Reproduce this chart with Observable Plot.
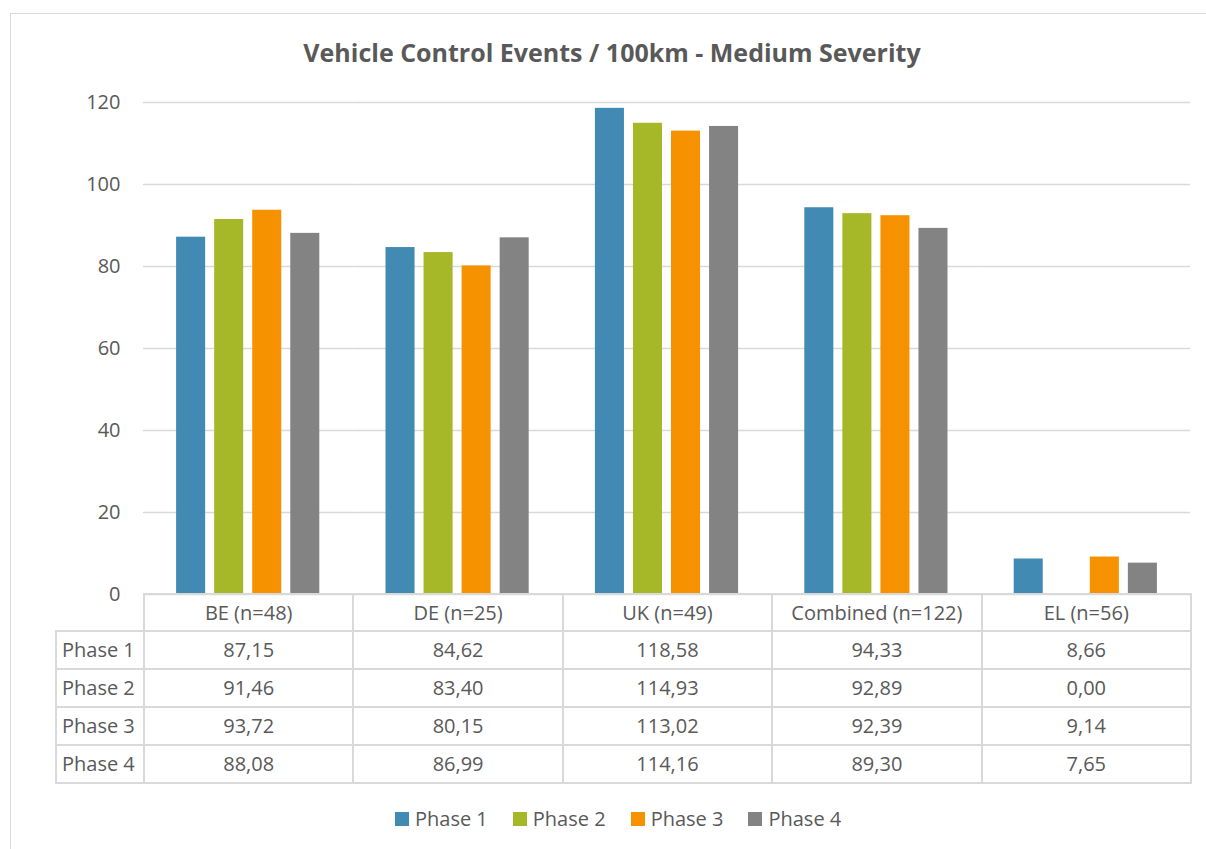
<!DOCTYPE html>
<html>
<head>
<meta charset="utf-8">
<script src="https://cdn.jsdelivr.net/npm/d3@7"></script>
<script src="https://cdn.jsdelivr.net/npm/@observablehq/plot@0.6"></script>
<style>
  html, body { margin: 0; padding: 0; background: #fff; }
  #wrap { position: relative; width: 1206px; height: 849px; overflow: hidden; font-family: "Open Sans", sans-serif; color: #595959; background: #fff; }
  #frame { position: absolute; left: 10px; top: 13px; width: 1210px; height: 860px; border: 1.5px solid #D9D9D9; box-sizing: border-box; }
  #title { position: absolute; left: 0; top: 35px; width: 1224px; text-align: center; font-weight: bold; font-size: 25px; line-height: 34px; color: #595959; }
  #chart { position: absolute; left: 0; top: 0; }
  #tbl { position: absolute; left: 55px; top: 593px; border-collapse: collapse; table-layout: fixed; font-size: 20px; color: #595959; }
  #tbl td { border: 2px solid #D9D9D9; height: 36px; padding: 0; text-align: center; white-space: nowrap; line-height: 36px; }
  #tbl tr.hdr td { height: 35px; line-height: 35px; }
  #tbl td.lab { text-align: left; padding-left: 5px; }
  #tbl td.empty { border: none; }
  #legend { position: absolute; left: 395px; top: 805px; display: flex; align-items: center; font-size: 20px; color: #595959; }
  #legend .it { display: flex; align-items: center; margin-right: 25px; }
  #legend .sw { width: 14px; height: 14px; margin-right: 6px; }
</style>
</head>
<body>
<div id="wrap">
  <div id="frame"></div>
  <div id="chart"></div>
  <div id="title"></div>
  <table id="tbl"></table>
  <div id="legend"></div>
</div>
<script>
const titleText = "Vehicle Control Events / 100km - Medium Severity";
const categories = ["BE (n=48)", "DE (n=25)", "UK (n=49)", "Combined (n=122)", "EL (n=56)"];
const phases = ["Phase 1", "Phase 2", "Phase 3", "Phase 4"];
const phase1 = [87.15, 84.62, 118.58, 94.33, 8.66];
const phase2 = [91.46, 83.40, 114.93, 92.89, 0.00];
const phase3 = [93.72, 80.15, 113.02, 92.39, 9.14];
const phase4 = [88.08, 86.99, 114.16, 89.30, 7.65];
const colors = ["#418AB3", "#A6B727", "#F69200", "#838383"];
const yTicks = [0, 20, 40, 60, 80, 100, 120];

const series = [phase1, phase2, phase3, phase4];
const data = [];
categories.forEach((c, i) => phases.forEach((p, j) => data.push({cat: c, phase: p, value: series[j][i]})));

document.getElementById("title").textContent = titleText;

const chart = Plot.plot({
  width: 1206,
  height: 624,
  marginLeft: 143,
  marginRight: 16,
  marginTop: 102,
  marginBottom: 30,
  style: {fontFamily: "'Open Sans', sans-serif", fontSize: "20px", color: "#595959", background: "transparent"},
  fx: {domain: categories, padding: 0, axis: null, round: false},
  x: {domain: phases, paddingInner: 0.237, paddingOuter: 0.87, axis: null, round: false},
  y: {domain: [0, 120], axis: null},
  color: {domain: phases, range: colors},
  marks: [
    Plot.gridY(yTicks, {stroke: "#D9D9D9", strokeOpacity: 1, strokeWidth: 1.5}),
    Plot.axisY(yTicks, {tickSize: 0, tickPadding: 23, fontSize: 20, fill: "#595959", label: null}),
    Plot.barY(data, {fx: "cat", x: "phase", y: "value", fill: "phase"})
  ]
});
document.getElementById("chart").appendChild(chart);

// data table
const fmt = v => v.toFixed(2).replace(".", ",");
const tbl = document.getElementById("tbl");
const colgroup = document.createElement("colgroup");
const c0 = document.createElement("col"); c0.style.width = "88px"; colgroup.appendChild(c0);
categories.forEach(() => { const c = document.createElement("col"); c.style.width = "209.4px"; colgroup.appendChild(c); });
tbl.appendChild(colgroup);
const hr = document.createElement("tr"); hr.className = "hdr";
const e = document.createElement("td"); e.className = "empty"; hr.appendChild(e);
categories.forEach(c => { const td = document.createElement("td"); td.textContent = c; hr.appendChild(td); });
tbl.appendChild(hr);
phases.forEach((p, j) => {
  const tr = document.createElement("tr");
  const l = document.createElement("td"); l.className = "lab"; l.textContent = p; tr.appendChild(l);
  series[j].forEach(v => { const td = document.createElement("td"); td.textContent = fmt(v); tr.appendChild(td); });
  tbl.appendChild(tr);
});

// legend
const lg = document.getElementById("legend");
phases.forEach((p, j) => {
  const it = document.createElement("div"); it.className = "it";
  const sw = document.createElement("div"); sw.className = "sw"; sw.style.background = colors[j];
  const tx = document.createElement("span"); tx.textContent = p;
  it.appendChild(sw); it.appendChild(tx); lg.appendChild(it);
});
</script>
</body>
</html>
